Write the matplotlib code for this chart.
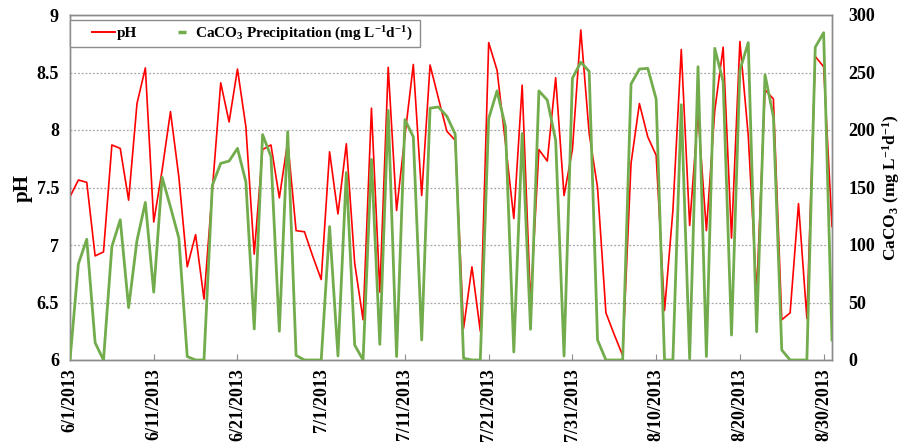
import matplotlib
matplotlib.use("Agg")
import matplotlib.pyplot as plt
from matplotlib.lines import Line2D
from matplotlib.patches import Rectangle
from matplotlib.ticker import FuncFormatter
import pandas as pd

plt.rcParams["font.family"] = ["Liberation Serif", "DejaVu Serif"]
plt.rcParams["font.weight"] = "bold"
plt.rcParams["mathtext.default"] = "regular"

# Daily series, 1 June - 31 August 2013
dates = pd.date_range("2013-06-01", "2013-08-31", freq="D")

ph = [
    7.42, 7.565, 7.545, 6.905, 6.94, 7.87, 7.84, 7.39, 8.23, 8.54,
    7.20, 7.65, 8.16, 7.59, 6.81, 7.09, 6.53, 7.48, 8.41, 8.07,
    8.53, 8.03, 6.92, 7.83, 7.87, 7.41, 7.90, 7.125, 7.115, 6.90,
    6.70, 7.81, 7.27, 7.88, 6.84, 6.35, 8.19, 6.59, 8.545, 7.30,
    7.95, 8.57, 7.43, 8.565, 8.275, 7.99, 7.91, 6.275, 6.81, 6.25,
    8.76, 8.52, 7.89, 7.23, 8.39, 6.49, 7.83, 7.73, 8.455, 7.43,
    7.83, 8.87, 7.97, 7.50, 6.41, 6.22, 6.04, 7.71, 8.23, 7.94,
    7.78, 6.43, 7.30, 8.70, 7.17, 8.145, 7.125, 8.17, 8.72, 7.06,
    8.77, 7.95, 6.58, 8.35, 8.27, 6.35, 6.41, 7.36, 6.36, 8.64,
    8.55, 7.16,
]

caco3 = [
    0, 83.5, 105, 15, 0, 98.6, 122, 45.5, 104, 137,
    59, 159, 133, 106, 3, 0, 0, 152, 171, 173,
    184, 155, 27, 196, 177, 25, 198.5, 4, 0, 0,
    0, 116, 3.5, 163, 13, 0, 174.5, 13.6, 217, 3,
    209, 194, 17.4, 219, 220, 212, 196.5, 1.5, 0, 0,
    210, 234, 203, 7, 197, 26.7, 234, 226, 191, 3.5,
    245, 259, 251, 17.4, 0, 0, 0, 240, 253, 253.6,
    227, 0, 0, 222, 1, 255, 3, 271, 242, 21.7,
    252, 276, 24.6, 248, 211.6, 8.7, 0, 0, 0, 272,
    284.6, 17.4,
]

tick_dates = pd.date_range("2013-06-01", "2013-08-30", freq="10D")
tick_labels = [f"{d.month}/{d.day}/{d.year}" for d in tick_dates]

ph_ticks = [6, 6.5, 7, 7.5, 8, 8.5, 9]
caco3_ticks = [0, 50, 100, 150, 200, 250, 300]

red = "#FF0000"
green = "#72AC4D"
frame = "#8C8C8C"

W, H = 908, 447
fig = plt.figure(figsize=(W / 100, H / 100), dpi=100)
ax = fig.add_axes([70 / W, 1 - 360 / H, 762 / W, 345 / H])
ax2 = ax.twinx()

ax.plot(dates, ph, color=red, lw=1.2, zorder=3)
ax2.plot(dates, caco3, color=green, lw=2.0, zorder=3)

ax.set_xlim(dates[0], dates[-1])
ax.set_ylim(6, 9)
ax2.set_ylim(0, 300)

ax.set_yticks(ph_ticks)
ax.yaxis.set_major_formatter(FuncFormatter(lambda v, p: f"{v:g}"))
ax2.set_yticks(caco3_ticks)

ax.set_xticks(tick_dates)
ax.set_xticklabels(tick_labels, rotation=90, fontsize=13, fontweight="bold")
ax.tick_params(axis="x", direction="in", length=4, color=frame, pad=6)
ax.tick_params(axis="y", length=0, labelsize=13, pad=8)
ax2.tick_params(axis="y", length=0, labelsize=13, pad=12)
for lab in ax.get_yticklabels() + ax2.get_yticklabels():
    lab.set_fontweight("bold")

ax.grid(axis="y", linestyle=(0, (1.5, 1.5)), color="#A6A6A6", lw=0.9)
ax.set_axisbelow(True)

for a in (ax, ax2):
    for s in a.spines.values():
        s.set_color(frame)
        s.set_linewidth(1.0)

ax.set_ylabel("pH", fontsize=15, fontweight="bold", labelpad=3)
ax2.set_ylabel(r"CaCO$_3$ (mg L$^{-1}$d$^{-1}$)", fontsize=12.5,
               fontweight="bold", labelpad=3)

# Legend box with the entries inset from its left edge
box = Rectangle((70 / W, 1 - 47 / H), 350 / W, 27 / H, transform=fig.transFigure,
                facecolor="white", edgecolor=frame, lw=1.0, zorder=5)
fig.add_artist(box)

handles = [
    Line2D([], [], color=red, lw=1.4),
    Line2D([], [], color=green, marker="_", markersize=6, mew=2.5,
           linestyle="none"),
]
labels = ["pH", r"CaCO$_3$ Precipitation (mg L$^{-1}$d$^{-1}$)"]
leg = fig.legend(handles, labels, ncol=2, loc="center left",
                 bbox_to_anchor=(92 / W, 1 - 33.5 / H), frameon=False,
                 prop={"weight": "bold", "size": 11}, handlelength=1.5,
                 handletextpad=0.1, columnspacing=2.2, borderpad=0,
                 borderaxespad=0)
leg.set_zorder(6)

fig.savefig("out.png", dpi=100)
